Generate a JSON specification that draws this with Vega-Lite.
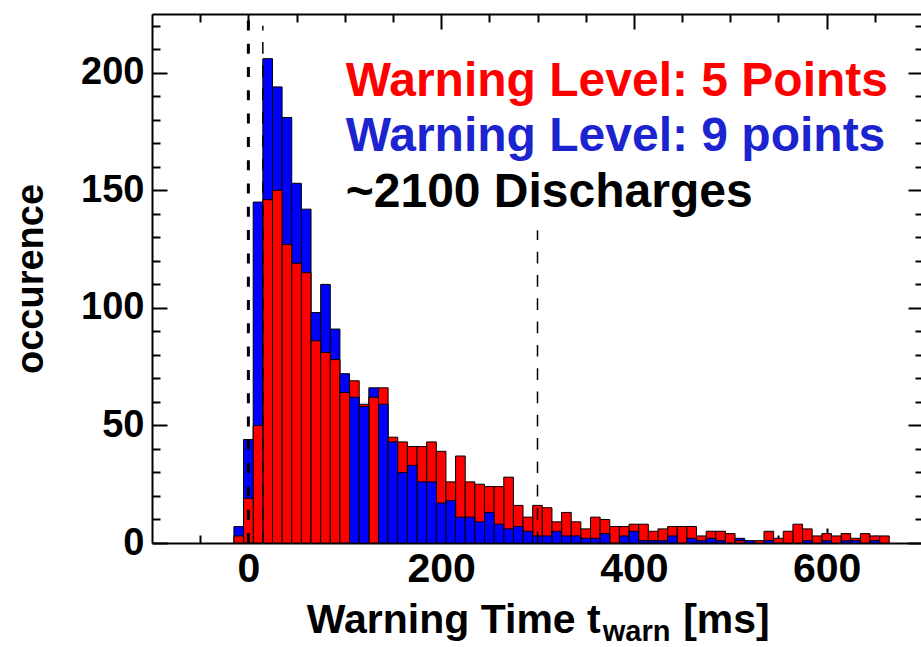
{
  "$schema": "https://vega.github.io/schema/vega-lite/v6.json",
  "width": 771,
  "height": 529,
  "autosize": "none",
  "padding": {"left": 152, "top": 14, "right": 0, "bottom": 104},
  "background": "white",
  "config": {"view": {"stroke": null}, "font": "Liberation Sans"},
  "resolve": {"axis": {"x": "independent", "y": "independent"}},
  "layer": [
    {
      "data": {"values": [
        {"lo": -15, "hi": -5, "r": 3, "b": 7},
        {"lo": -5, "hi": 5, "r": 19, "b": 44},
        {"lo": 5, "hi": 15, "r": 50, "b": 145},
        {"lo": 15, "hi": 25, "r": 146, "b": 206},
        {"lo": 25, "hi": 35, "r": 150, "b": 194},
        {"lo": 35, "hi": 45, "r": 127, "b": 181},
        {"lo": 45, "hi": 55, "r": 119, "b": 153},
        {"lo": 55, "hi": 65, "r": 115, "b": 142},
        {"lo": 65, "hi": 75, "r": 86, "b": 98},
        {"lo": 75, "hi": 85, "r": 81, "b": 110},
        {"lo": 85, "hi": 95, "r": 78, "b": 91},
        {"lo": 95, "hi": 105, "r": 64, "b": 72},
        {"lo": 105, "hi": 115, "r": 69, "b": 62},
        {"lo": 115, "hi": 125, "r": 59, "b": 58},
        {"lo": 125, "hi": 135, "r": 62, "b": 66},
        {"lo": 135, "hi": 145, "r": 66, "b": 59},
        {"lo": 145, "hi": 155, "r": 45, "b": 43},
        {"lo": 155, "hi": 165, "r": 43, "b": 30},
        {"lo": 165, "hi": 175, "r": 41, "b": 33},
        {"lo": 175, "hi": 185, "r": 41, "b": 26},
        {"lo": 185, "hi": 195, "r": 43, "b": 26},
        {"lo": 195, "hi": 205, "r": 39, "b": 17},
        {"lo": 205, "hi": 215, "r": 26, "b": 18},
        {"lo": 215, "hi": 225, "r": 37, "b": 11},
        {"lo": 225, "hi": 235, "r": 26, "b": 11},
        {"lo": 235, "hi": 245, "r": 25, "b": 9},
        {"lo": 245, "hi": 255, "r": 24, "b": 13},
        {"lo": 255, "hi": 265, "r": 24, "b": 8},
        {"lo": 265, "hi": 275, "r": 28, "b": 6},
        {"lo": 275, "hi": 285, "r": 16, "b": 7},
        {"lo": 285, "hi": 295, "r": 11, "b": 5},
        {"lo": 295, "hi": 305, "r": 16, "b": 3},
        {"lo": 305, "hi": 315, "r": 15, "b": 3},
        {"lo": 315, "hi": 325, "r": 9, "b": 5},
        {"lo": 325, "hi": 335, "r": 13, "b": 3},
        {"lo": 335, "hi": 345, "r": 9, "b": 3},
        {"lo": 345, "hi": 355, "r": 6, "b": 2},
        {"lo": 355, "hi": 365, "r": 11, "b": 2},
        {"lo": 365, "hi": 375, "r": 10, "b": 4},
        {"lo": 375, "hi": 385, "r": 7, "b": 0},
        {"lo": 385, "hi": 395, "r": 7, "b": 3},
        {"lo": 395, "hi": 405, "r": 8, "b": 5},
        {"lo": 405, "hi": 415, "r": 8, "b": 1},
        {"lo": 415, "hi": 425, "r": 5, "b": 1},
        {"lo": 425, "hi": 435, "r": 6, "b": 1},
        {"lo": 435, "hi": 445, "r": 7, "b": 3},
        {"lo": 445, "hi": 455, "r": 7, "b": 0},
        {"lo": 455, "hi": 465, "r": 7, "b": 2},
        {"lo": 465, "hi": 475, "r": 3, "b": 1},
        {"lo": 475, "hi": 485, "r": 5, "b": 2},
        {"lo": 485, "hi": 495, "r": 5, "b": 1},
        {"lo": 495, "hi": 505, "r": 4, "b": 0},
        {"lo": 505, "hi": 515, "r": 1, "b": 2},
        {"lo": 515, "hi": 525, "r": 0, "b": 1},
        {"lo": 525, "hi": 535, "r": 1, "b": 0},
        {"lo": 535, "hi": 545, "r": 5, "b": 1},
        {"lo": 545, "hi": 555, "r": 2, "b": 0},
        {"lo": 555, "hi": 565, "r": 5, "b": 0},
        {"lo": 565, "hi": 575, "r": 8, "b": 0},
        {"lo": 575, "hi": 585, "r": 6, "b": 1},
        {"lo": 585, "hi": 595, "r": 3, "b": 0},
        {"lo": 595, "hi": 605, "r": 4, "b": 1},
        {"lo": 605, "hi": 615, "r": 3, "b": 0},
        {"lo": 615, "hi": 625, "r": 4, "b": 1},
        {"lo": 625, "hi": 635, "r": 2, "b": 1},
        {"lo": 635, "hi": 645, "r": 4, "b": 0},
        {"lo": 645, "hi": 655, "r": 3, "b": 1},
        {"lo": 655, "hi": 665, "r": 3, "b": 0}
      ]},
      "transform": [
        {"fold": ["r", "b"], "as": ["series", "n"]},
        {"filter": "datum.n > 0"}
      ],
      "mark": {"type": "bar", "stroke": "black", "strokeWidth": 1},
      "encoding": {
        "x": {
          "field": "lo", "type": "quantitative",
          "scale": {"domain": [-100, 700], "nice": false, "zero": false},
          "axis": {
            "orient": "bottom",
            "values": [-50, 0, 50, 100, 150, 200, 250, 300, 350, 400, 450, 500, 550, 600, 650],
            "labelExpr": "(datum.value % 200 === 0 && datum.value >= 0) ? datum.label : ''",
            "tickSize": {"condition": {"test": "datum.value % 200 === 0", "value": -15}, "value": -8},
            "tickWidth": 2, "tickColor": "black",
            "domainColor": "black", "domainWidth": 2,
            "labelFont": "Liberation Sans", "labelFontWeight": "bold", "labelFontSize": 41,
            "labelColor": "black", "labelPadding": 21, "labelOverlap": false, "labelFlush": false,
            "grid": false, "title": null
          }
        },
        "x2": {"field": "hi"},
        "y": {
          "field": "n", "type": "quantitative", "stack": null,
          "scale": {"domain": [0, 225], "nice": false},
          "axis": {
            "orient": "left",
            "values": [0, 10, 20, 30, 40, 50, 60, 70, 80, 90, 100, 110, 120, 130, 140, 150, 160, 170, 180, 190, 200, 210, 220],
            "labelExpr": "datum.value % 50 === 0 ? datum.label : ''",
            "tickSize": {"condition": {"test": "datum.value % 50 === 0", "value": -15}, "value": -8},
            "tickWidth": 2, "tickColor": "black",
            "domainColor": "black", "domainWidth": 2,
            "labelFont": "Liberation Sans", "labelFontWeight": "bold", "labelFontSize": 38,
            "labelColor": "black", "labelPadding": 23, "labelOverlap": false, "labelFlush": false,
            "grid": false,
            "title": "occurence", "titleFont": "Liberation Sans", "titleFontWeight": "bold",
            "titleFontSize": 38, "titleColor": "black", "titlePadding": 30
          }
        },
        "y2": {"datum": 0},
        "color": {
          "field": "series", "type": "nominal",
          "scale": {"domain": ["r", "b"], "range": ["#ff0000", "#0000ff"]},
          "legend": null
        },
        "order": {"field": "n", "sort": "descending"}
      }
    },
    {
      "data": {"values": [{"t": 0, "lo": 0, "hi": 225}]},
      "mark": {"type": "rule", "color": "black", "strokeWidth": 3, "strokeDash": [10, 13.3]},
      "encoding": {
        "x": {"field": "t", "type": "quantitative", "scale": {"domain": [-100, 700], "nice": false, "zero": false},
          "axis": {
            "orient": "top",
            "values": [-50, 0, 50, 100, 150, 200, 250, 300, 350, 400, 450, 500, 550, 600, 650],
            "labels": false,
            "tickSize": {"condition": {"test": "datum.value % 200 === 0", "value": -15}, "value": -8},
            "tickWidth": 2, "tickColor": "black",
            "domainColor": "black", "domainWidth": 2,
            "grid": false, "title": null
          }
        },
        "y": {"field": "lo", "type": "quantitative", "scale": {"domain": [0, 225], "nice": false},
          "axis": {
            "orient": "right",
            "values": [0, 10, 20, 30, 40, 50, 60, 70, 80, 90, 100, 110, 120, 130, 140, 150, 160, 170, 180, 190, 200, 210, 220],
            "labels": false,
            "tickSize": {"condition": {"test": "datum.value % 50 === 0", "value": -15}, "value": -8},
            "tickWidth": 2, "tickColor": "black",
            "domainColor": "black", "domainWidth": 2,
            "grid": false, "title": null
          }
        },
        "y2": {"field": "hi"}
      }
    },
    {
      "data": {"values": [{"t": 15, "lo": 0, "hi": 220}]},
      "mark": {"type": "rule", "color": "black", "strokeWidth": 1.5, "strokeDash": [11.7, 11.6]},
      "encoding": {
        "x": {"field": "t", "type": "quantitative", "axis": null},
        "y": {"field": "lo", "type": "quantitative", "axis": null},
        "y2": {"field": "hi"}
      }
    },
    {
      "data": {"values": [{"t": 300, "lo": 0, "hi": 133}]},
      "mark": {"type": "rule", "color": "black", "strokeWidth": 1.5, "strokeDash": [11.7, 11.6]},
      "encoding": {
        "x": {"field": "t", "type": "quantitative", "axis": null},
        "y": {"field": "lo", "type": "quantitative", "axis": null},
        "y2": {"field": "hi"}
      }
    },
    {
      "data": {"values": [{"label": "Warning Level: 5 Points", "t": 101, "v": 190.1}]},
      "mark": {"type": "text", "font": "Liberation Sans", "fontWeight": "bold", "fontSize": 48, "align": "left", "baseline": "alphabetic", "color": "#ff0000"},
      "encoding": {
        "x": {"field": "t", "type": "quantitative", "axis": null},
        "y": {"field": "v", "type": "quantitative", "axis": null},
        "text": {"field": "label"}
      }
    },
    {
      "data": {"values": [{"label": "Warning Level: 9 points", "t": 101, "v": 166.7}]},
      "mark": {"type": "text", "font": "Liberation Sans", "fontWeight": "bold", "fontSize": 48, "align": "left", "baseline": "alphabetic", "color": "#1c24d0"},
      "encoding": {
        "x": {"field": "t", "type": "quantitative", "axis": null},
        "y": {"field": "v", "type": "quantitative", "axis": null},
        "text": {"field": "label"}
      }
    },
    {
      "data": {"values": [{"label": "~2100 Discharges", "t": 101, "v": 142.9}]},
      "mark": {"type": "text", "font": "Liberation Sans", "fontWeight": "bold", "fontSize": 48, "align": "left", "baseline": "alphabetic", "color": "black"},
      "encoding": {
        "x": {"field": "t", "type": "quantitative", "axis": null},
        "y": {"field": "v", "type": "quantitative", "axis": null},
        "text": {"field": "label"}
      }
    },
    {
      "data": {"values": [{"label": "Warning Time t", "t": 60.7, "v": -38.3}]},
      "mark": {"type": "text", "font": "Liberation Sans", "fontWeight": "bold", "fontSize": 41, "align": "left", "baseline": "alphabetic", "color": "black"},
      "encoding": {
        "x": {"field": "t", "type": "quantitative", "axis": null},
        "y": {"field": "v", "type": "quantitative", "axis": null},
        "text": {"field": "label"}
      }
    },
    {
      "data": {"values": [{"label": "warn", "t": 367.7, "v": -41.5}]},
      "mark": {"type": "text", "font": "Liberation Sans", "fontWeight": "bold", "fontSize": 29, "align": "left", "baseline": "alphabetic", "color": "black"},
      "encoding": {
        "x": {"field": "t", "type": "quantitative", "axis": null},
        "y": {"field": "v", "type": "quantitative", "axis": null},
        "text": {"field": "label"}
      }
    },
    {
      "data": {"values": [{"label": "[ms]", "t": 541, "v": -38.3}]},
      "mark": {"type": "text", "font": "Liberation Sans", "fontWeight": "bold", "fontSize": 41, "align": "right", "baseline": "alphabetic", "color": "black"},
      "encoding": {
        "x": {"field": "t", "type": "quantitative", "axis": null},
        "y": {"field": "v", "type": "quantitative", "axis": null},
        "text": {"field": "label"}
      }
    }
  ]
}
